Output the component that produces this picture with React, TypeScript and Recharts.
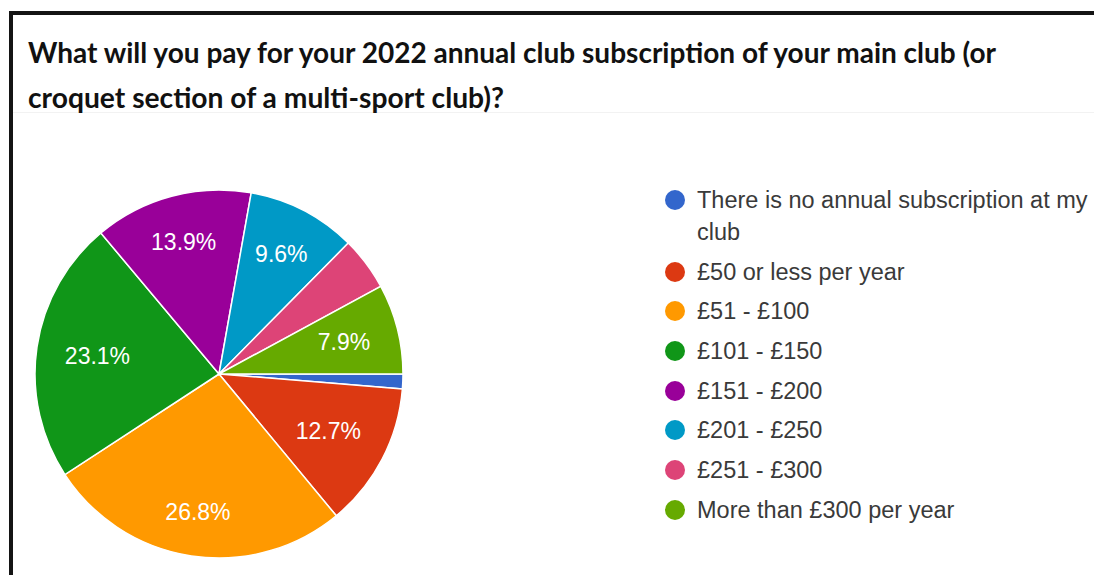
import React from "react";
import { PieChart, Pie, Cell, Legend } from "recharts";

const titleLines = [
    "What will you pay for your 2022 annual club subscription of your main club (or",
    "croquet section of a multi-sport club)?",
];

const categories = [
    "There is no annual subscription at my club",
    "£50 or less per year",
    "£51 - £100",
    "£101 - £150",
    "£151 - £200",
    "£201 - £250",
    "£251 - £300",
    "More than £300 per year",
];

// share of responses, %
const percentages = [1.3, 12.7, 26.8, 23.1, 13.9, 9.6, 4.7, 7.9];

const sliceColors = [
    "#3366cc",
    "#dc3912",
    "#ff9900",
    "#109618",
    "#990099",
    "#0099c6",
    "#dd4477",
    "#66aa00",
];

const RADIAN = Math.PI / 180;
const FONT = "'Liberation Sans', Arial, sans-serif";
const LABEL_SIZE = 23;

// rough Arial advance widths (em) for the label glyphs
const glyphWidth = (ch: string) => (ch === "." ? 0.278 : ch === "%" ? 0.889 : 0.556);

const renderLabel = (props: any) => {
    const { cx, cy, midAngle, outerRadius, value } = props;
    if (value < 5) return null;
    const text = `${Number(value).toFixed(1)}%`;
    const w = text.split("").reduce((s, ch) => s + glyphWidth(ch), 0) * LABEL_SIZE;
    const h = 17;
    // push the label out until its far corner touches 0.85 of the radius
    const c = Math.cos(-midAngle * RADIAN);
    const s = Math.sin(-midAngle * RADIAN);
    const a = Math.sign(c) * w / 2;
    const b = Math.sign(s) * h / 2;
    const D = outerRadius * 0.85;
    const k = c * a + s * b;
    const d = -k + Math.sqrt(k * k - (a * a + b * b - D * D));
    const x = cx + d * c;
    const y = cy + d * s;
    return (
        <text
            x={x}
            y={y}
            fill="#ffffff"
            textAnchor="middle"
            dominantBaseline="central"
            fontSize={LABEL_SIZE}
            fontFamily={FONT}
        >
            {text}
        </text>
    );
};

const renderLegend = (props: any) => {
    const items = [...(props.payload || [])].sort(
        (p: any, q: any) => categories.indexOf(p.value) - categories.indexOf(q.value)
    );
    return (
        <div style={{ fontFamily: FONT, fontSize: 23.5, color: "#3a3a3a" }}>
            {items.map((entry: any, index: number) => (
                <div
                    key={index}
                    style={{ display: "flex", alignItems: "flex-start", marginBottom: 7.7 }}
                >
                    <div
                        style={{
                            width: 20,
                            height: 20,
                            borderRadius: "50%",
                            background: entry.color,
                            marginTop: 6,
                            flex: "none",
                        }}
                    />
                    <div style={{ marginLeft: 12, width: 400, lineHeight: "32px" }}>
                        {entry.value}
                    </div>
                </div>
            ))}
        </div>
    );
};

const App: React.FC = () => {
    const data = categories.map((name, i) => ({ name, value: percentages[i] }));

    return (
        <div
            style={{
                position: "absolute",
                left: 0,
                top: 0,
                width: 1094,
                height: 575,
                overflow: "hidden",
                background: "#ffffff",
            }}
        >
            {/* screenshot frame */}
            <div
                style={{
                    position: "absolute",
                    left: 9,
                    top: 11,
                    right: 0,
                    bottom: -4,
                    borderTop: "4px solid #141414",
                    borderLeft: "4px solid #141414",
                }}
            />
            <div
                style={{
                    position: "absolute",
                    left: 13,
                    top: 112,
                    right: 0,
                    height: 1,
                    background: "#f2f2f2",
                }}
            />

            <svg
                width={1094}
                height={130}
                style={{ position: "absolute", left: 0, top: 0 }}
            >
                <text
                    x={28}
                    y={63}
                    fontFamily="Lato, 'Open Sans', sans-serif"
                    fontWeight={700}
                    fontSize={28}
                    fill="#111111"
                    textLength={968}
                    lengthAdjust="spacingAndGlyphs"
                >
                    {titleLines[0]}
                </text>
                <text
                    x={28}
                    y={108}
                    fontFamily="Lato, 'Open Sans', sans-serif"
                    fontWeight={700}
                    fontSize={28}
                    fill="#111111"
                    textLength={476}
                    lengthAdjust="spacingAndGlyphs"
                >
                    {titleLines[1]}
                </text>
            </svg>

            <div style={{ position: "absolute", left: 0, top: 0 }}>
                <PieChart width={1094} height={575} margin={{ top: 0, right: 0, bottom: 0, left: 0 }}>
                    <Pie
                        data={data}
                        dataKey="value"
                        nameKey="name"
                        cx={219}
                        cy={374}
                        outerRadius={184}
                        startAngle={0}
                        endAngle={-360}
                        stroke="#ffffff"
                        strokeWidth={1.5}
                        label={renderLabel}
                        labelLine={false}
                        isAnimationActive={false}
                    >
                        {data.map((_, i) => (
                            <Cell key={i} fill={sliceColors[i]} />
                        ))}
                    </Pie>
                    <Legend
                        content={renderLegend}
                        wrapperStyle={{ position: "absolute", left: 665, top: 184, width: 440 }}
                    />
                </PieChart>
            </div>
        </div>
    );
};

export default App;
